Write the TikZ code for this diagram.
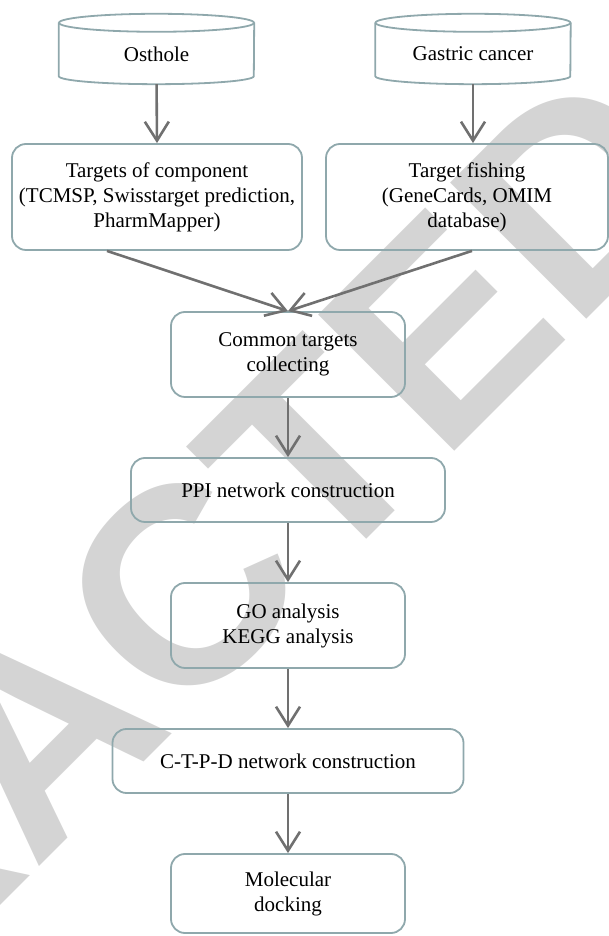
\documentclass[tikz,border=0pt]{standalone}
\usepackage{fontspec}
\setmainfont{Liberation Serif}
\newfontfamily\wmfont{Liberation Sans}
\usetikzlibrary{arrows.meta,positioning}
\definecolor{boxline}{RGB}{143,168,172}
\definecolor{arrowgray}{RGB}{112,112,112}
\definecolor{wmgray}{RGB}{212,212,212}

\begin{document}
\begin{tikzpicture}[x=1pt,y=1pt,node distance=135.5pt,on grid,
  box/.style={draw=boxline,line width=1.8pt,rounded corners=14pt,align=center,inner sep=2pt,font=\fontsize{21}{25}\selectfont},
  db/.style={minimum width=195pt,minimum height=44pt,inner sep=0pt,font=\fontsize{21}{25}\selectfont},
  dbline/.style={draw=boxline,line width=1.8pt},
  flow/.style={draw=arrowgray,line width=2.6pt,-{Straight Barb[length=19pt,width=24pt]}}]

  \useasboundingbox (0,0) rectangle (609,936);
  \clip (0,0) rectangle (609,936);

  % watermark behind the chart
  \node[text=wmgray,rotate=45,anchor=base,inner sep=0pt,font=\wmfont\bfseries\fontsize{280}{280}\selectfont] (wm) at (106,136) {RETRACTED};

  \node[db] (ost) at (156.5,882) {Osthole};
  \node[db] (gc) at (473,882) {Gastric cancer};
  \foreach \n in {ost,gc} {
    \draw[dbline] ([yshift=9pt]\n.north) ellipse [x radius=97.5pt, y radius=9pt];
    \draw[dbline] ([yshift=9pt]\n.north west) -- (\n.south west)
      arc[start angle=180, end angle=360, x radius=97.5pt, y radius=8pt] -- ([yshift=9pt]\n.north east);
  }

  \node[box,minimum width=290pt,minimum height=106pt] (tc) at (157,739) {Targets of component\\(TCMSP, Swisstarget prediction,\\PharmMapper)};
  \node[box,minimum width=282pt,minimum height=106pt] (tf) at (467,739) {Target fishing\\(GeneCards, OMIM\\database)};
  \node[box,minimum width=234pt,minimum height=85pt] (cc) at (288,581.5) {Common targets\\collecting};
  \node[box,minimum width=314pt,minimum height=64pt] (ppi) [below=of cc] {PPI network construction};
  \node[box,minimum width=234pt,minimum height=85pt] (go) [below=of ppi] {GO analysis\\KEGG analysis};
  \node[box,minimum width=351pt,minimum height=64pt] (ctpd) [below=of go] {C-T-P-D network construction};
  \node[box,minimum width=234pt,minimum height=79pt] (md) [below=132.5pt of ctpd] {Molecular\\docking};

  % sources down to their target lists
  \draw[flow,shorten <=8pt] (ost.south) -- (tc.north);
  \draw[flow,shorten <=8pt] (gc.south) -- (tf.north -| gc.south);

  % the two lists meet in the common targets
  \draw[flow] ([xshift=-50pt]tc.south) -- (cc.north);
  \draw[flow] ([xshift=5pt]tf.south) -- (cc.north);

  \path[flow]
    (cc) edge (ppi)
    (ppi) edge (go)
    (go) edge (ctpd)
    (ctpd) edge (md);

\end{tikzpicture}
\end{document}
